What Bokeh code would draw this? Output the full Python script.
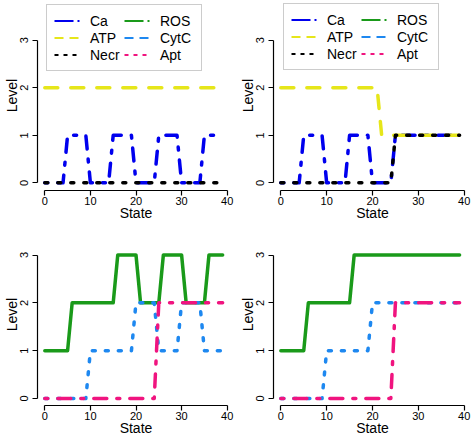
from bokeh.plotting import figure
from bokeh.models import Range1d, Legend, LegendItem, FixedTicker
from bokeh.layouts import gridplot
from bokeh.embed import file_html
from bokeh.resources import INLINE

# ---------------- data ----------------
states = [0, 1, 2, 3, 4, 5, 6, 7, 8, 9, 10, 11, 12, 13, 14, 15, 16, 17, 18, 19,
          20, 21, 22, 23, 24, 25, 26, 27, 28, 29, 30, 31, 32, 33, 34, 35, 36, 37, 38, 39]

# panel A (top-left)
ca_a = [0, 0, 0, 0, 0, 1, 1, 1, 1, 1, 0, 0, 0, 0, 0, 1, 1, 1, 1, 1,
        0, 0, 0, 0, 0, 1, 1, 1, 1, 1, 0, 0, 0, 0, 0, 1, 1, 1, 1, 1]
atp_a = [2, 2, 2, 2, 2, 2, 2, 2, 2, 2, 2, 2, 2, 2, 2, 2, 2, 2, 2, 2,
         2, 2, 2, 2, 2, 2, 2, 2, 2, 2, 2, 2, 2, 2, 2, 2, 2, 2, 2, 2]
necr_a = [0, 0, 0, 0, 0, 0, 0, 0, 0, 0, 0, 0, 0, 0, 0, 0, 0, 0, 0, 0,
          0, 0, 0, 0, 0, 0, 0, 0, 0, 0, 0, 0, 0, 0, 0, 0, 0, 0, 0, 0]

# panel B (top-right)
ca_b = [0, 0, 0, 0, 0, 1, 1, 1, 1, 1, 0, 0, 0, 0, 0, 1, 1, 1, 1, 1,
        0, 0, 0, 0, 0, 1, 1, 1, 1, 1, 1, 1, 1, 1, 1, 1, 1, 1, 1, 1]
atp_b = [2, 2, 2, 2, 2, 2, 2, 2, 2, 2, 2, 2, 2, 2, 2, 2, 2, 2, 2, 2,
         2, 2, 1, 1, 1, 1, 1, 1, 1, 1, 1, 1, 1, 1, 1, 1, 1, 1, 1, 1]
necr_b = [0, 0, 0, 0, 0, 0, 0, 0, 0, 0, 0, 0, 0, 0, 0, 0, 0, 0, 0, 0,
          0, 0, 0, 0, 0, 1, 1, 1, 1, 1, 1, 1, 1, 1, 1, 1, 1, 1, 1, 1]

# panel C (bottom-left)
ros_c = [1, 1, 1, 1, 1, 1, 2, 2, 2, 2, 2, 2, 2, 2, 2, 2, 3, 3, 3, 3,
         3, 2, 2, 2, 2, 2, 3, 3, 3, 3, 3, 2, 2, 2, 2, 2, 3, 3, 3, 3]
cytc_c = [0, 0, 0, 0, 0, 0, 0, 0, 0, 0, 1, 1, 1, 1, 1, 1, 1, 1, 1, 1,
          2, 2, 2, 2, 2, 1, 1, 1, 1, 1, 2, 2, 2, 2, 2, 1, 1, 1, 1, 1]
apt_c = [0, 0, 0, 0, 0, 0, 0, 0, 0, 0, 0, 0, 0, 0, 0, 0, 0, 0, 0, 0,
         0, 0, 0, 0, 0, 2, 2, 2, 2, 2, 2, 2, 2, 2, 2, 2, 2, 2, 2, 2]

# panel D (bottom-right)
ros_d = [1, 1, 1, 1, 1, 1, 2, 2, 2, 2, 2, 2, 2, 2, 2, 2, 3, 3, 3, 3,
         3, 3, 3, 3, 3, 3, 3, 3, 3, 3, 3, 3, 3, 3, 3, 3, 3, 3, 3, 3]
cytc_d = [0, 0, 0, 0, 0, 0, 0, 0, 0, 0, 1, 1, 1, 1, 1, 1, 1, 1, 1, 1,
          2, 2, 2, 2, 2, 2, 2, 2, 2, 2, 2, 2, 2, 2, 2, 2, 2, 2, 2, 2]
apt_d = [0, 0, 0, 0, 0, 0, 0, 0, 0, 0, 0, 0, 0, 0, 0, 0, 0, 0, 0, 0,
         0, 0, 0, 0, 0, 2, 2, 2, 2, 2, 2, 2, 2, 2, 2, 2, 2, 2, 2, 2]

x_ticks = [0, 10, 20, 30, 40]
y_ticks = [0, 1, 2, 3]
legend_labels = ["Ca", "ATP", "Necr", "ROS", "CytC", "Apt"]

# ---------------- style ----------------
FONT = "Liberation Sans"
C_CA = "#0000EE"
C_ATP = "#E6E61A"
C_NECR = "#000000"
C_ROS = "#1A9A1A"
C_CYTC = "#1E88F0"
C_APT = "#F0147F"

DOTDASH = "3 10 13 10"
DASHED = "13 13"
DOTTED = "3 10"
LW = 3.5

legend_styles = [
    (C_CA, "19 4 2 20"), (C_ATP, "9 6"), (C_NECR, "4 5"),
    (C_ROS, "19 4 2 20"), (C_CYTC, "9 6"), (C_APT, "4 5"),
]
legend_series = [ca_a, atp_a, necr_a, ros_c, cytc_c, apt_c]


def make_panel(height, yr, left, right, bottom):
    p = figure(width=236, height=height,
               x_range=Range1d(-1.6, 41.6), y_range=Range1d(*yr),
               output_backend="svg", toolbar_location=None,
               min_border_left=left, min_border_right=right,
               min_border_top=0, min_border_bottom=bottom)
    p.outline_line_color = None
    p.xgrid.visible = False
    p.ygrid.visible = False
    p.background_fill_color = "white"
    p.border_fill_color = "white"
    xa = p.xaxis[0]
    ya = p.yaxis[0]
    xa.ticker = FixedTicker(ticks=x_ticks)
    ya.ticker = FixedTicker(ticks=y_ticks)
    xa.bounds = (x_ticks[0], x_ticks[-1])
    ya.bounds = (y_ticks[0], y_ticks[-1])
    for ax in (xa, ya):
        ax.axis_line_width = 1.2
        ax.axis_line_color = "black"
        ax.major_tick_line_width = 1.2
        ax.major_tick_line_color = "black"
        ax.major_tick_out = 5
        ax.major_tick_in = 0
        ax.minor_tick_line_color = None
        ax.major_label_text_font = FONT
        ax.major_label_text_font_size = "11px"
        ax.major_label_text_color = "black"
        ax.axis_label_text_font = FONT
        ax.axis_label_text_font_size = "14px"
        ax.axis_label_text_font_style = "normal"
        ax.axis_label_text_color = "black"
    xa.major_label_standoff = 1
    xa.axis_label_standoff = -3
    ya.major_label_standoff = 4
    ya.axis_label_standoff = -2
    xa.axis_label = "State"
    ya.axis_label = "Level"
    ya.major_label_orientation = "vertical"
    return p


def add_line(p, ys, color, dash):
    kw = dict(line_color=color, line_width=LW, line_cap="round", line_join="round")
    if dash is not None:
        kw["line_dash"] = dash
    p.line(states, ys, **kw)


def add_legend(p, vx, vy):
    items = []
    for label, (color, dash), ys in zip(legend_labels, legend_styles, legend_series):
        r = p.line(states, ys, line_color=color, line_width=2, line_dash=dash,
                   line_cap="butt", visible=False)
        items.append(LegendItem(label=label, renderers=[r]))
    leg = Legend(items=items, ncols=2, location=(vx, vy),
                 label_text_font=FONT, label_text_font_size="14px",
                 label_text_color="black",
                 border_line_color="#999999", border_line_width=1,
                 background_fill_color="white", background_fill_alpha=1.0,
                 inactive_fill_alpha=0.0,
                 padding=7, spacing=0, margin=0,
                 glyph_width=26, glyph_height=17, label_height=17,
                 label_standoff=10, label_width=34)
    p.add_layout(leg)


TOP_H = 223
BOT_H = 215
TOP_YR = (-0.161, 3.837)   # frame height 191
BOT_YR = (-0.1455, 3.659)  # frame height 183

pa = make_panel(TOP_H, TOP_YR, 36, 2, 32)
add_line(pa, ca_a, C_CA, DOTDASH)
add_line(pa, atp_a, C_ATP, DASHED)
add_line(pa, necr_a, C_NECR, DOTTED)
add_legend(pa, 9, 119)

pb = make_panel(TOP_H, TOP_YR, 37, 1, 32)
add_line(pb, ca_b, C_CA, DOTDASH)
add_line(pb, atp_b, C_ATP, DASHED)
add_line(pb, necr_b, C_NECR, DOTTED)
add_legend(pb, 10, 120)

pc = make_panel(BOT_H, BOT_YR, 36, 2, 32)
add_line(pc, ros_c, C_ROS, None)
add_line(pc, cytc_c, C_CYTC, DOTTED)
add_line(pc, apt_c, C_APT, DOTDASH)

pd = make_panel(BOT_H, BOT_YR, 37, 1, 32)
add_line(pd, ros_d, C_ROS, None)
add_line(pd, cytc_d, C_CYTC, DOTTED)
add_line(pd, apt_d, C_APT, DOTDASH)

grid = gridplot([[pa, pb], [pc, pd]], toolbar_location=None)

with open("out.html", "w") as f:
    f.write(file_html(grid, INLINE))
